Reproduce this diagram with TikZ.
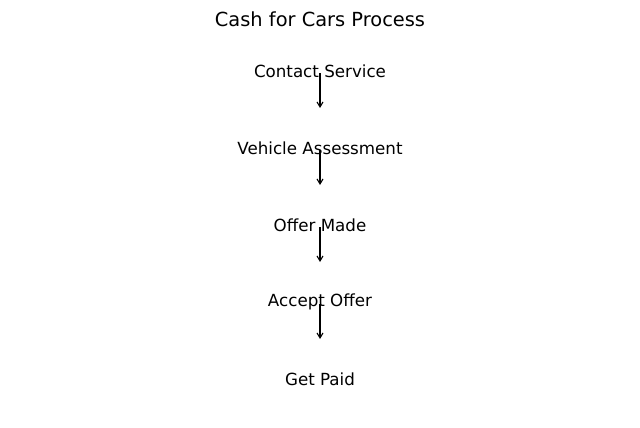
\documentclass[tikz,border=0pt]{standalone}
\usepackage{fontspec}
\setmainfont{DejaVu Sans}
\usetikzlibrary{arrows.meta}
\begin{document}
\begin{tikzpicture}[x=1pt,y=1pt,
  lbl/.style={inner sep=0pt,font=\fontsize{16.7}{20}\selectfont},
  arr/.style={-{Straight Barb[length=5pt,width=6pt]},line width=1.1pt}]
\useasboundingbox (0,0) rectangle (640,-428);
\node[inner sep=0pt,font=\fontsize{19.4}{23}\selectfont] (title) at (320,-19) {Cash for Cars Process};
\node[lbl] (n1) at (320,-71) {Contact Service};
\node[lbl] (n2) at (320,-148) {Vehicle Assessment};
\node[lbl] (n3) at (320,-225) {Offer Made};
\node[lbl] (n4) at (320,-302) {Accept Offer};
\node[lbl] (n5) at (320,-379) {Get Paid};
\foreach \a in {n1,n2,n3,n4}{
  \coordinate (\a s) at ([yshift=-2pt]\a.center);
  \coordinate (\a e) at ([yshift=-37pt]\a.center);
  \draw[arr] (\a s) -- (\a e);
}
\end{tikzpicture}
\end{document}
